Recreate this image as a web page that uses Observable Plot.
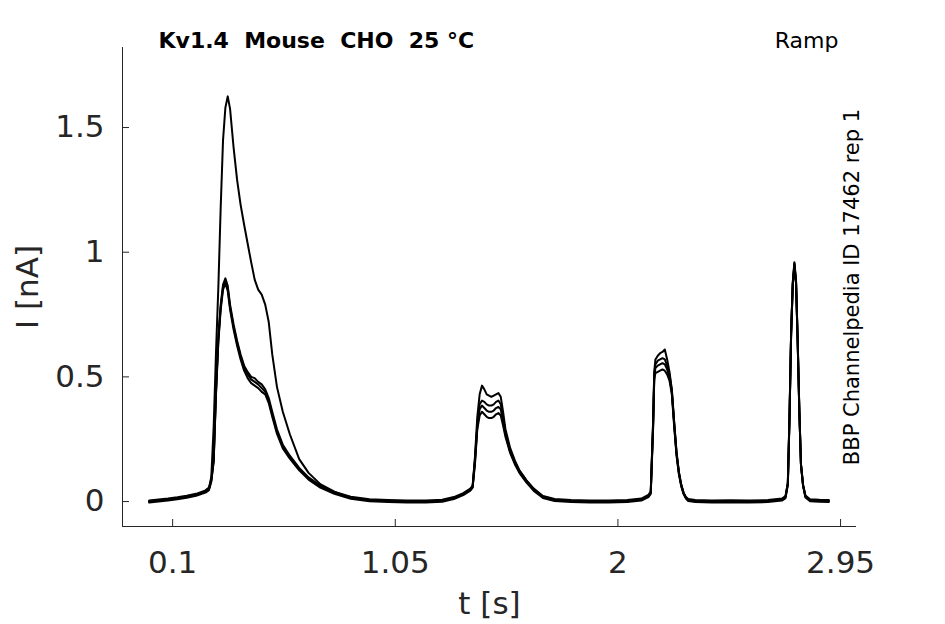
<!DOCTYPE html>
<html>
<head>
<meta charset="utf-8">
<script src="https://cdn.jsdelivr.net/npm/d3@7"></script>
<script src="https://cdn.jsdelivr.net/npm/@observablehq/plot@0.6"></script>
<style>
  html, body { margin: 0; padding: 0; background: #ffffff; }
  #chart { width: 945px; height: 624px; }
</style>
</head>
<body>
<div id="chart"></div>
<script>
// ---- data ----
const timeS = [
  0.00, 0.04, 0.08, 0.12, 0.16, 0.20, 0.24, 0.255,
  0.265, 0.275, 0.285, 0.295, 0.305, 0.315, 0.325, 0.335, 0.345,
  0.36, 0.375, 0.39, 0.405, 0.42, 0.435, 0.45, 0.465, 0.48, 0.495, 0.51,
  0.525, 0.545, 0.57, 0.60, 0.64, 0.68, 0.73, 0.79, 0.86, 0.94,
  1.02, 1.10, 1.18, 1.25, 1.30, 1.34, 1.37, 1.38,
  1.39, 1.40, 1.41, 1.42, 1.43, 1.44, 1.45, 1.46, 1.47, 1.48, 1.49, 1.50, 1.51, 1.52,
  1.54, 1.56, 1.58, 1.61, 1.64, 1.68, 1.73, 1.80, 1.88, 1.96, 2.04, 2.10,
  2.13, 2.14, 2.15, 2.155, 2.16, 2.17, 2.18, 2.19, 2.20, 2.21, 2.22, 2.23, 2.24, 2.25, 2.26, 2.27, 2.28, 2.29, 2.30,
  2.33, 2.40, 2.48, 2.56, 2.64, 2.70, 2.715,
  2.725, 2.732, 2.739, 2.746, 2.753, 2.76, 2.767, 2.774, 2.781, 2.79, 2.80, 2.82, 2.86, 2.90
];

const sweep1 = [
  0.000, 0.004, 0.009, 0.013, 0.019, 0.027, 0.040, 0.052,
  0.10, 0.30, 0.60, 0.86, 1.18, 1.45, 1.58, 1.625, 1.575,
  1.42, 1.29, 1.19, 1.11, 1.035, 0.96, 0.89, 0.85, 0.83, 0.79, 0.72,
  0.59, 0.46, 0.36, 0.27, 0.17, 0.115, 0.07, 0.04, 0.016, 0.006,
  0.002, 0.001, 0.000, 0.004, 0.014, 0.030, 0.046, 0.058,
  0.18, 0.34, 0.43, 0.465, 0.45, 0.43, 0.425, 0.42, 0.425, 0.43, 0.435, 0.42, 0.36, 0.29,
  0.215, 0.165, 0.125, 0.085, 0.052, 0.02, 0.007, 0.003, 0.001, 0.001, 0.003, 0.009,
  0.024, 0.036, 0.32, 0.52, 0.57, 0.585, 0.595, 0.60, 0.61, 0.57, 0.52, 0.45, 0.32, 0.20, 0.12, 0.068, 0.035, 0.016, 0.007,
  0.003, 0.001, 0.002, 0.001, 0.003, 0.009, 0.019,
  0.075, 0.34, 0.68, 0.88, 0.96, 0.885, 0.65, 0.37, 0.15, 0.065, 0.022, 0.006, 0.004, 0.003
];

const sweep2 = [
  0.004, 0.008, 0.012, 0.017, 0.023, 0.031, 0.045, 0.056,
  0.09, 0.17, 0.45, 0.66, 0.79, 0.87, 0.895, 0.865, 0.79,
  0.71, 0.645, 0.59, 0.545, 0.52, 0.50, 0.495, 0.48, 0.47, 0.45, 0.415,
  0.36, 0.29, 0.228, 0.184, 0.135, 0.097, 0.064, 0.039, 0.019, 0.009,
  0.006, 0.004, 0.004, 0.007, 0.018, 0.034, 0.052, 0.064,
  0.17, 0.31, 0.39, 0.405, 0.40, 0.39, 0.385, 0.385, 0.39, 0.40, 0.405, 0.39, 0.335, 0.28,
  0.205, 0.16, 0.122, 0.084, 0.052, 0.022, 0.01, 0.006, 0.004, 0.004, 0.006, 0.012,
  0.027, 0.04, 0.31, 0.51, 0.55, 0.565, 0.57, 0.575, 0.57, 0.545, 0.51, 0.445, 0.315, 0.195, 0.118, 0.068, 0.036, 0.018, 0.01,
  0.006, 0.004, 0.005, 0.004, 0.006, 0.012, 0.022,
  0.074, 0.335, 0.675, 0.875, 0.955, 0.88, 0.645, 0.37, 0.15, 0.068, 0.024, 0.009, 0.007, 0.006
];

const sweep3 = [
  0.000, 0.004, 0.008, 0.013, 0.019, 0.027, 0.040, 0.050,
  0.085, 0.165, 0.44, 0.65, 0.78, 0.86, 0.885, 0.855, 0.78,
  0.70, 0.635, 0.58, 0.535, 0.51, 0.49, 0.48, 0.47, 0.455, 0.44, 0.405,
  0.35, 0.28, 0.22, 0.178, 0.13, 0.092, 0.06, 0.035, 0.015, 0.005,
  0.002, 0.000, 0.000, 0.003, 0.014, 0.030, 0.048, 0.060,
  0.16, 0.30, 0.37, 0.385, 0.375, 0.365, 0.36, 0.36, 0.365, 0.375, 0.38, 0.37, 0.32, 0.27,
  0.20, 0.155, 0.118, 0.08, 0.048, 0.018, 0.006, 0.002, 0.000, 0.000, 0.002, 0.008,
  0.022, 0.035, 0.30, 0.50, 0.535, 0.545, 0.55, 0.555, 0.55, 0.53, 0.50, 0.44, 0.31, 0.19, 0.115, 0.065, 0.033, 0.015, 0.006,
  0.002, 0.000, 0.001, 0.000, 0.002, 0.008, 0.018,
  0.07, 0.33, 0.67, 0.87, 0.95, 0.88, 0.64, 0.365, 0.15, 0.065, 0.02, 0.005, 0.003, 0.002
];

const sweep4 = [
  -0.004, 0.000, 0.004, 0.009, 0.015, 0.023, 0.036, 0.046,
  0.08, 0.16, 0.43, 0.64, 0.77, 0.85, 0.875, 0.845, 0.77,
  0.69, 0.625, 0.57, 0.525, 0.495, 0.475, 0.465, 0.455, 0.44, 0.43, 0.395,
  0.34, 0.272, 0.213, 0.172, 0.125, 0.088, 0.056, 0.031, 0.011, 0.001,
  -0.002, -0.004, -0.004, -0.001, 0.01, 0.026, 0.044, 0.056,
  0.15, 0.29, 0.345, 0.36, 0.35, 0.34, 0.335, 0.335, 0.34, 0.35, 0.355, 0.345, 0.305, 0.26,
  0.195, 0.15, 0.114, 0.076, 0.044, 0.014, 0.002, -0.002, -0.004, -0.004, -0.002, 0.004,
  0.018, 0.031, 0.29, 0.49, 0.515, 0.52, 0.525, 0.53, 0.525, 0.51, 0.485, 0.43, 0.30, 0.185, 0.11, 0.062, 0.03, 0.012, 0.002,
  -0.002, -0.004, -0.003, -0.004, -0.002, 0.004, 0.014,
  0.066, 0.325, 0.665, 0.865, 0.94, 0.875, 0.635, 0.36, 0.145, 0.062, 0.016, 0.001, -0.001, -0.002
];

const sweepNames = ["sweep 1", "sweep 2", "sweep 3", "sweep 4"];
const xTicks = [0.1, 1.05, 2, 2.95];
const yTicks = [0, 0.5, 1, 1.5];
const xTickLabels = ["0.1", "1.05", "2", "2.95"];
const yTickLabels = ["0", "0.5", "1", "1.5"];
const xDomain = [-0.114, 3.018];
const yDomain = [-0.1, 1.821];
const titleText = "Kv1.4\u00a0 Mouse\u00a0 CHO\u00a0 25 °C";
const protocolText = "Ramp";
const sideText = "BBP Channelpedia ID 17462 rep 1";
const xLabel = "t [s]";
const yLabel = "I [nA]";

// ---- tidy table ----
const rows = [];
[sweep1, sweep2, sweep3, sweep4].forEach((vals, k) => {
  vals.forEach((v, i) => rows.push({t: timeS[i], I: v, sweep: sweepNames[k]}));
});

// ---- layout ----
const W = 945, H = 624;
const mL = 122, mR = 89, mT = 47, mB = 98;
const frameW = W - mL - mR, frameH = H - mT - mB;
const ink = "#262626";

const chart = Plot.plot({
  width: W,
  height: H,
  marginLeft: mL,
  marginRight: mR,
  marginTop: mT,
  marginBottom: mB,
  style: {fontFamily: "DejaVu Sans", background: "#ffffff", overflow: "visible"},
  x: {domain: xDomain, label: null},
  y: {domain: yDomain, label: null},
  marks: [
    Plot.line(rows, {x: "t", y: "I", z: "sweep", stroke: "#000000", strokeWidth: 2, strokeLinejoin: "round"}),
    Plot.ruleX([xDomain[0]], {stroke: ink, strokeWidth: 1}),
    Plot.ruleY([yDomain[0]], {stroke: ink, strokeWidth: 1}),
    Plot.tickX(xTicks, {x: d => d, stroke: ink, strokeWidth: 1, insetTop: frameH - 7}),
    Plot.tickY(yTicks, {y: d => d, stroke: ink, strokeWidth: 1, insetRight: frameW - 7}),
    Plot.axisX(xTicks, {tickSize: 0, tickPadding: 24, fontSize: 31, fill: ink, label: null,
      tickFormat: (d, i) => xTickLabels[i]}),
    Plot.axisY(yTicks, {tickSize: 0, tickPadding: 18, fontSize: 31, fill: ink, label: null,
      tickFormat: (d, i) => yTickLabels[i]}),
    Plot.text([xLabel], {text: d => d, frameAnchor: "bottom", dy: 87, textAnchor: "middle", lineAnchor: "bottom", fontSize: 31, fill: ink}),
    Plot.text([yLabel], {text: d => d, frameAnchor: "left", dx: -85, rotate: -90, textAnchor: "middle", lineAnchor: "bottom", fontSize: 31, fill: ink}),
    Plot.text([titleText], {text: d => d, frameAnchor: "top-left", dx: 36, dy: 0, textAnchor: "start", lineAnchor: "bottom",
      fontSize: 22, fontWeight: "bold", fill: "#000000"}),
    Plot.text([protocolText], {text: d => d, frameAnchor: "top-right", dx: -18, dy: 0, textAnchor: "end", lineAnchor: "bottom",
      fontSize: 22, fill: "#000000"}),
    Plot.text([sideText], {text: d => d, frameAnchor: "right", dx: 2, rotate: -90, textAnchor: "middle", lineAnchor: "bottom",
      fontSize: 21, fill: "#000000"})
  ]
});

document.getElementById("chart").appendChild(chart);
</script>
</body>
</html>
